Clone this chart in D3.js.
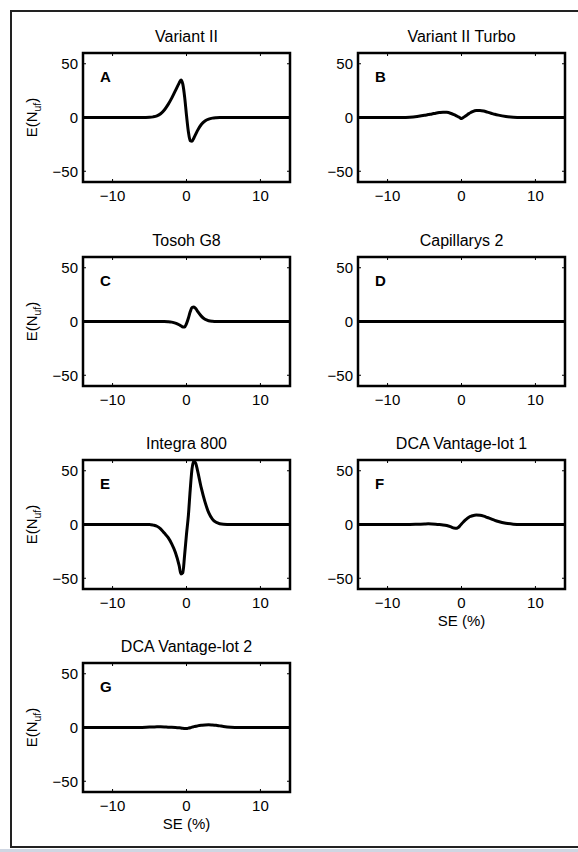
<!DOCTYPE html>
<html>
<head>
<meta charset="utf-8">
<script src="https://cdn.jsdelivr.net/npm/d3@7"></script>
<style>
  body { margin: 0; background: #fff; }
  svg { display: block; font-family: "Liberation Sans", Arial, sans-serif; }
</style>
</head>
<body>
<div id="chart"></div>
<script>
// SE (%) grid shared by all panels
var seGrid = [-14, -8, -7, -6, -5, -4.5, -4, -3.5, -3, -2.5, -2, -1.5, -1, -0.75, -0.5, -0.25,
              0, 0.25, 0.5, 0.75, 1, 1.25, 1.5, 2, 2.5, 3, 3.5, 4, 4.5, 5, 6, 7, 8, 14];

var variantII      = [0, 0, 0, 0, 0.2, 0.6, 1.5, 3.5, 7, 12, 18, 25, 32, 35, 31, 19,
                      2, -13, -21.5, -22, -19, -15.5, -12, -6.5, -3.2, -1.5, -0.6, -0.2, 0, 0, 0, 0, 0, 0];
var variantIITurbo = [0, 0, 0.3, 1, 2, 2.7, 3.3, 4, 4.6, 5, 4.8, 4, 2.6, 1.8, 0.9, 0,
                      -1, 0, 1.2, 2.4, 3.6, 4.6, 5.5, 6.5, 6.5, 6, 5, 4, 3, 2.2, 1, 0.3, 0, 0];
var tosohG8        = [0, 0, 0, 0, 0, 0, 0, 0, 0, -0.2, -0.6, -1.5, -3, -4, -5, -5,
                      -2, 3, 9, 13, 13.5, 12, 9.5, 5, 2, 0.7, 0.2, 0, 0, 0, 0, 0, 0, 0];
var capillarys2    = [0, 0, 0, 0, 0, 0, 0, 0, 0, 0, 0, 0, 0, 0, 0, 0,
                      0, 0, 0, 0, 0, 0, 0, 0, 0, 0, 0, 0, 0, 0, 0, 0, 0, 0];
var integra800     = [0, 0, 0, 0, 0, -0.6, -1.6, -4, -8, -12, -18, -26, -38, -46, -45, -28,
                      -9, 8, 32, 52, 59, 57, 50, 34, 21, 11, 5, 2, 0.7, 0.2, 0, 0, 0, 0];
var dcaLot1        = [0, 0, 0, 0.2, 0.5, 0.6, 0.5, 0.3, 0, -0.4, -1, -2, -3.3, -3.6, -3, -1.5,
                      0.5, 2.3, 4, 5.5, 6.8, 7.6, 8.2, 8.8, 8.6, 7.8, 6.5, 5.2, 3.9, 2.8, 1.2, 0.3, 0, 0];
var dcaLot2        = [0, 0, 0, 0.1, 0.4, 0.5, 0.6, 0.6, 0.5, 0.3, 0.2, 0, -0.3, -0.5, -0.8, -0.9,
                      -1, -0.6, -0.2, 0.3, 0.8, 1.2, 1.5, 2, 2.4, 2.5, 2.3, 2, 1.5, 1, 0.3, 0, 0, 0];

var titles  = ["Variant II", "Variant II Turbo", "Tosoh G8", "Capillarys 2", "Integra 800", "DCA Vantage-lot 1", "DCA Vantage-lot 2"];
var letters = ["A", "B", "C", "D", "E", "F", "G"];
var series  = [variantII, variantIITurbo, tosohG8, capillarys2, integra800, dcaLot1, dcaLot2];
var xTicks = [-10, 0, 10],
    yTicks = [-50, 0, 50];

var W = 578, H = 852;
var svg = d3.select("#chart").append("svg").attr("width", W).attr("height", H);

// outer frame
svg.append("rect").attr("x", 0).attr("y", 849).attr("width", W).attr("height", 3).attr("fill", "#cfd6e2");
svg.append("path")
    .attr("d", "M" + W + ",11H11V847H" + W)
    .attr("fill", "none").attr("stroke", "#222").attr("stroke-width", 2);

var colX = [83, 358], rowY = [53, 257, 460, 663],
    pw = 207, ph = 129;

var x = d3.scaleLinear().domain([-14, 14]).range([0, pw]);
var y = d3.scaleLinear().domain([-60, 60]).range([ph, 0]);

var line = d3.line()
    .x(function(d, i) { return x(seGrid[i]); })
    .y(function(d) { return y(d); })
    .curve(d3.curveMonotoneX);

function fmt(d) { return d < 0 ? "\u2212" + (-d) : d; }

series.forEach(function(vals, k) {
    var col = k % 2, row = Math.floor(k / 2);
    var g = svg.append("g").attr("transform", "translate(" + colX[col] + "," + rowY[row] + ")");

    g.append("text")
        .attr("x", pw / 2).attr("y", -11)
        .attr("text-anchor", "middle")
        .attr("font-size", 16)
        .text(titles[k]);

    // inward ticks, all four sides
    g.selectAll(".xt").data(xTicks).enter().append("path")
        .attr("d", function(d) { return "M" + x(d) + ",0v3M" + x(d) + "," + ph + "v-3"; })
        .attr("stroke", "#000").attr("stroke-width", 1);
    g.selectAll(".yt").data(yTicks).enter().append("path")
        .attr("d", function(d) { return "M0," + y(d) + "h3M" + pw + "," + y(d) + "h-3"; })
        .attr("stroke", "#000").attr("stroke-width", 1);

    g.selectAll(".xl").data(xTicks).enter().append("text")
        .attr("x", function(d) { return x(d); })
        .attr("y", ph + 18.5)
        .attr("text-anchor", "middle")
        .attr("font-size", 15)
        .text(fmt);
    g.selectAll(".yl").data(yTicks).enter().append("text")
        .attr("x", -5)
        .attr("y", function(d) { return y(d) + 5.5; })
        .attr("text-anchor", "end")
        .attr("font-size", 15)
        .text(fmt);

    if (col === 0) {
        var yl = g.append("text")
            .attr("transform", "translate(-46," + (ph / 2) + ") rotate(-90)")
            .attr("text-anchor", "middle")
            .attr("font-size", 15);
        yl.append("tspan").text("E(N");
        yl.append("tspan").attr("font-size", 10.5).attr("dy", 3.5).text("uf");
        yl.append("tspan").attr("dy", -3.5).text(")");
    }
    if (k >= 5) {
        g.append("text")
            .attr("x", x(0)).attr("y", ph + 36.5)
            .attr("text-anchor", "middle")
            .attr("font-size", 15)
            .text("SE (%)");
    }

    g.append("path")
        .datum(vals)
        .attr("d", line)
        .attr("fill", "none")
        .attr("stroke", "#000")
        .attr("stroke-width", 3)
        .attr("stroke-linejoin", "round");

    g.append("rect")
        .attr("width", pw).attr("height", ph)
        .attr("fill", "none").attr("stroke", "#000").attr("stroke-width", 2.5);

    g.append("text")
        .attr("x", 17).attr("y", 29)
        .attr("font-size", 15).attr("font-weight", "bold")
        .text(letters[k]);
});
</script>
</body>
</html>
